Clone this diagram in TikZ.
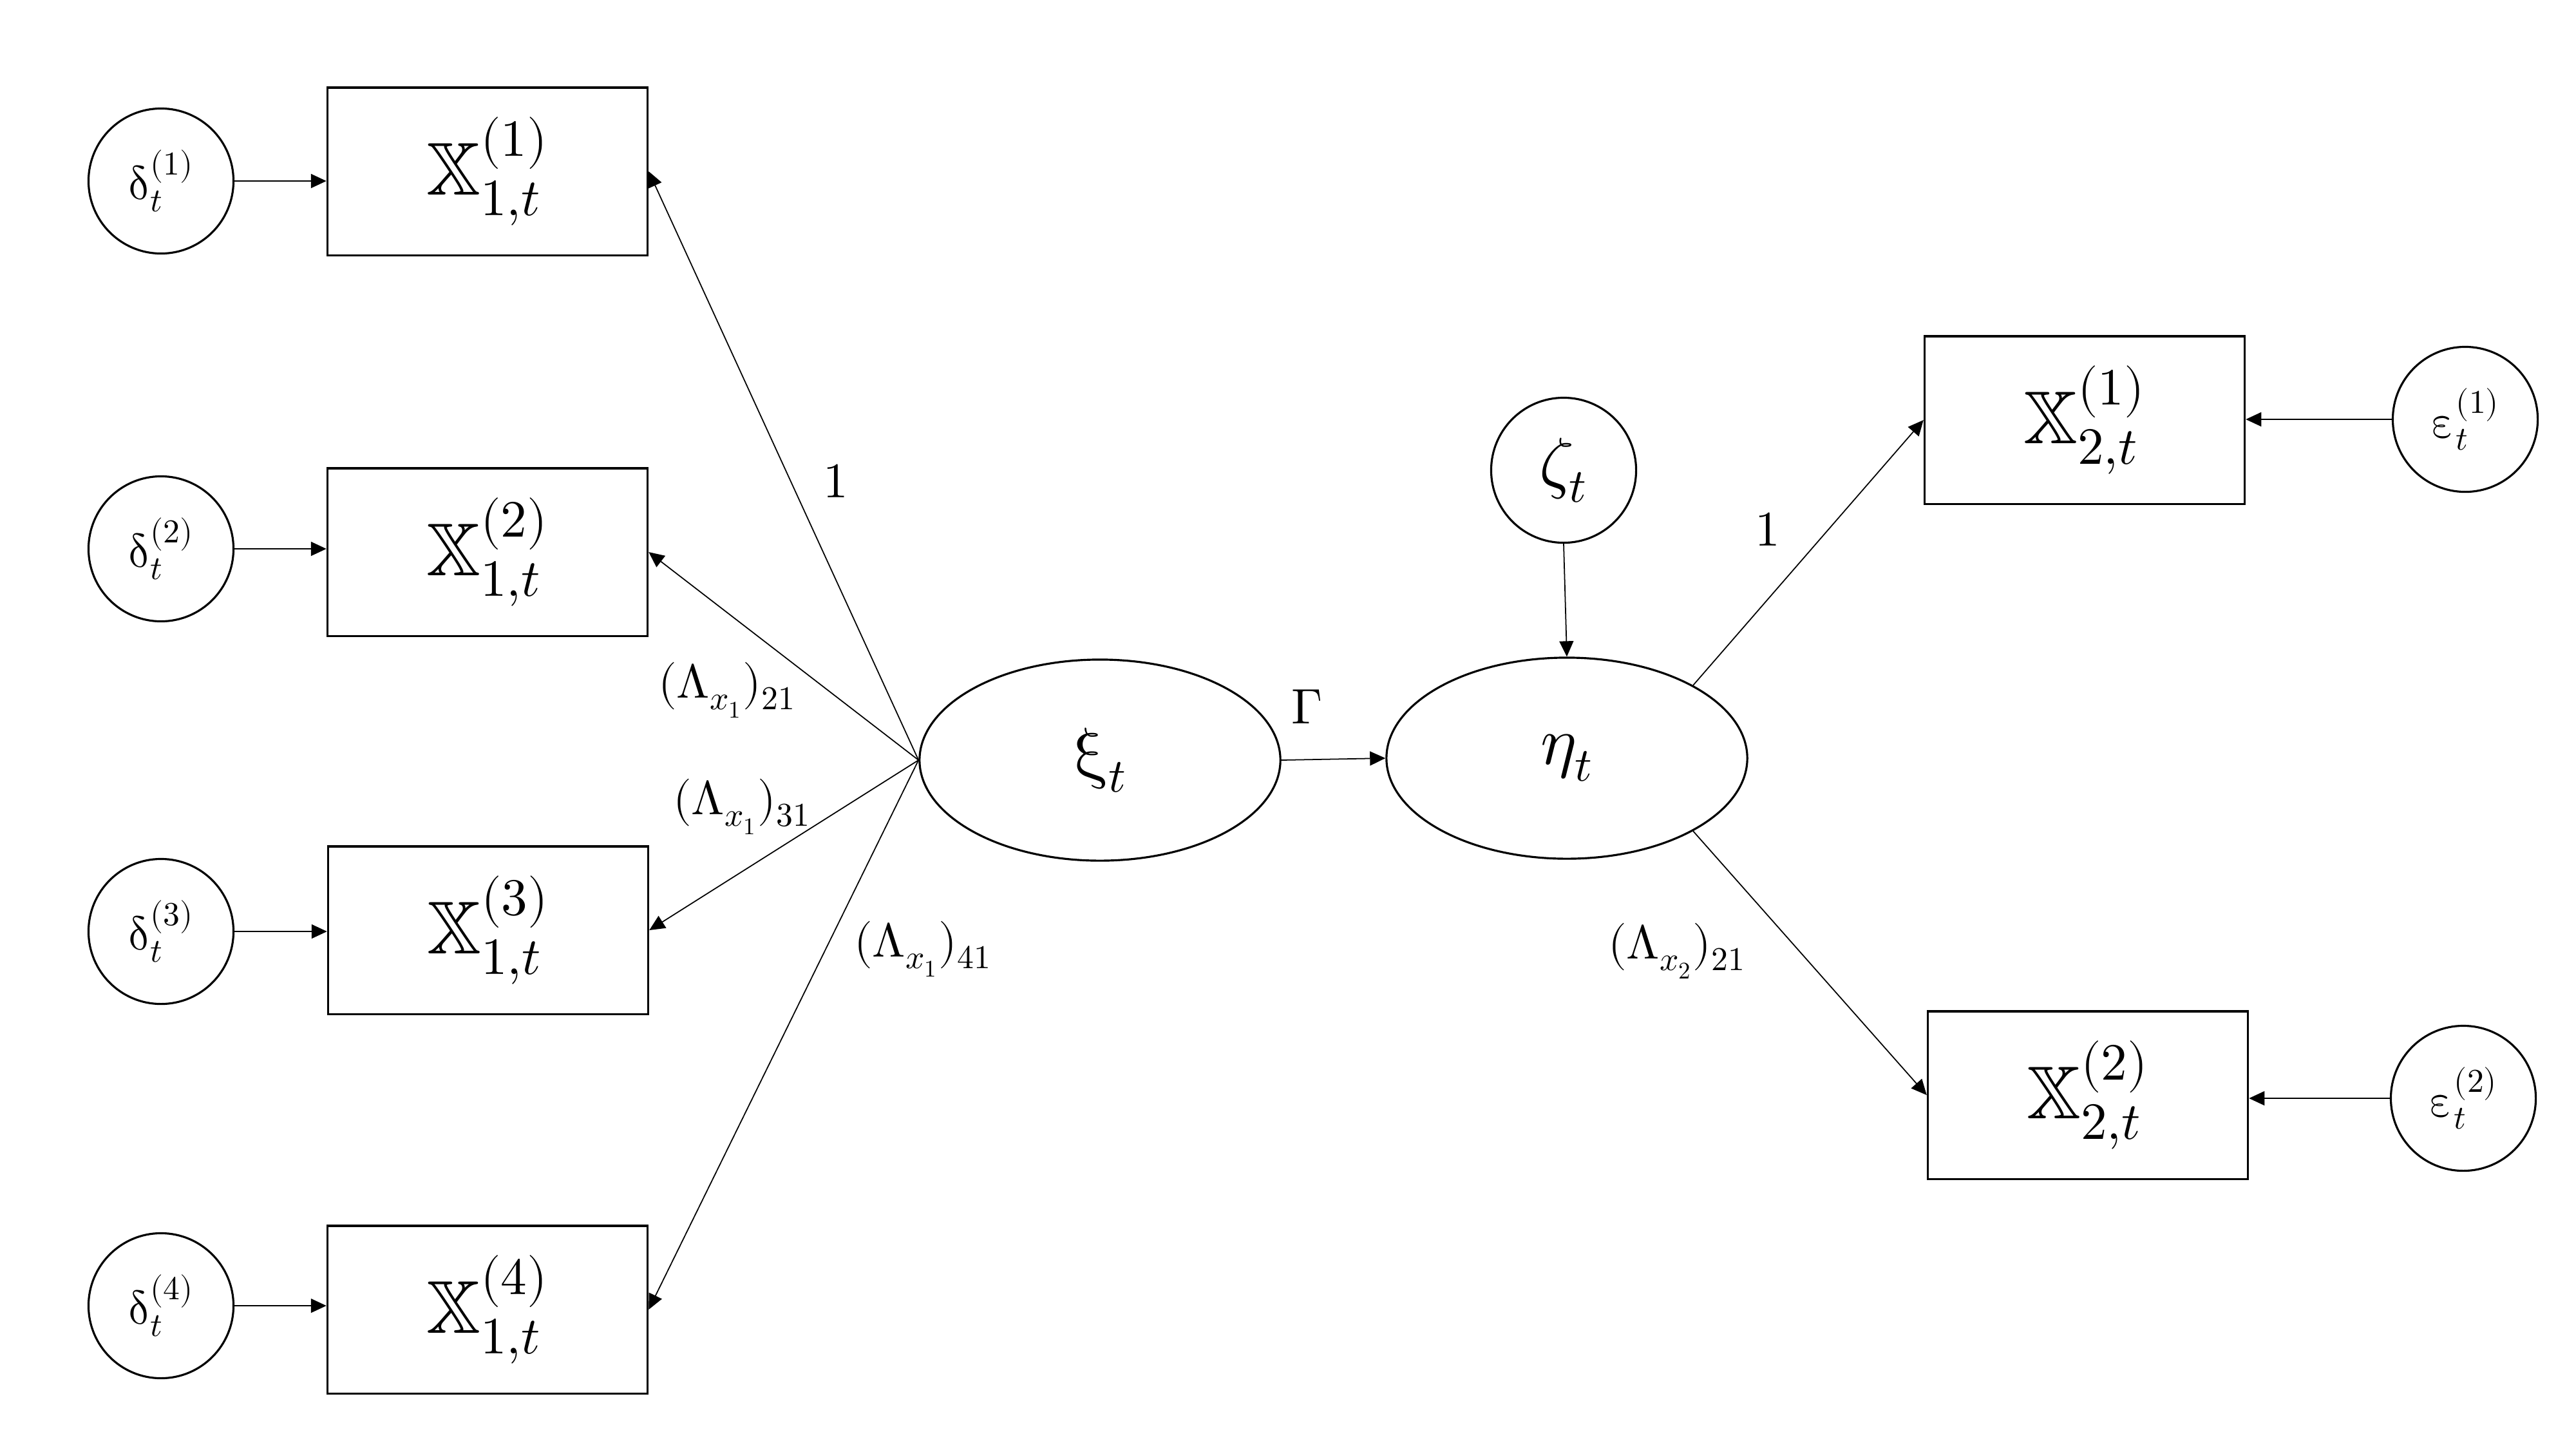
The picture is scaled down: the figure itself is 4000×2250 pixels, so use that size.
\documentclass[tikz,border=0pt]{standalone}
\usepackage{unicode-math}
\setmathfont{Latin Modern Math}
\usetikzlibrary{arrows.meta,shapes.geometric}
\newcommand{\bbXX}{\mbox{\usefont{U}{msb}{m}{n}X}}
\begin{document}
\begin{tikzpicture}[x=0.01cm,y=-0.01cm,
 obs/.style={draw, line width=0.9pt, minimum width=4.97cm, minimum height=2.6cm, inner sep=0pt, font=\fontsize{33}{40}\selectfont},
 err/.style={draw, circle, line width=0.9pt, minimum size=2.25cm, inner sep=0pt, font=\fontsize{21}{25}\selectfont},
 lat/.style={draw, ellipse, line width=0.9pt, minimum width=5.6cm, minimum height=3.12cm, inner sep=0pt, font=\fontsize{30}{36}\selectfont},
 arr/.style={-{Triangle[length=0.24cm,width=0.22cm]}, line width=0.5pt},
 lbl/.style={font=\fontsize{21}{25}\selectfont, inner sep=0pt},
 biglbl/.style={font=\fontsize{22}{26}\selectfont, inner sep=0pt}]
\useasboundingbox (0,0) rectangle (4000,2250);

% left error terms
\node[err] (d1) at (250,281) {$\symup{\delta}^{(1)}_t$};
\node[err] (d2) at (250,852) {$\symup{\delta}^{(2)}_t$};
\node[err] (d3) at (250,1446) {$\symup{\delta}^{(3)}_t$};
\node[err] (d4) at (250,2027) {$\symup{\delta}^{(4)}_t$};

% left indicators
\node[obs] (x11) at (757,266) {$\bbXX^{(1)}_{1,t}$};
\node[obs] (x12) at (757,857) {$\bbXX^{(2)}_{1,t}$};
\node[obs] (x13) at (758,1444) {$\bbXX^{(3)}_{1,t}$};
\node[obs] (x14) at (757,2033) {$\bbXX^{(4)}_{1,t}$};

% latent variables
\node[lat] (xi) at (1708,1180) {$\symup{\xi}_t$};
\node[lat] (eta) at (2433,1177) {$\eta_t$};
\node[err, font=\fontsize{30}{36}\selectfont] (zeta) at (2428,730) {$\zeta_t$};

% right indicators
\node[obs] (x21) at (3237,652) {$\bbXX^{(1)}_{2,t}$};
\node[obs] (x22) at (3242,1700) {$\bbXX^{(2)}_{2,t}$};

% right error terms
\node[err] (e1) at (3828,651) {$\symup{\varepsilon}^{(1)}_t$};
\node[err] (e2) at (3825,1705) {$\symup{\varepsilon}^{(2)}_t$};

% connectors
\draw[arr] (d1.east) -- (d1.east -| x11.west);
\draw[arr] (d2.east) -- (d2.east -| x12.west);
\draw[arr] (d3.east) -- (d3.east -| x13.west);
\draw[arr] (d4.east) -- (d4.east -| x14.west);

\draw[arr] (xi.west) -- (x11.east);
\draw[arr] (xi.west) -- (x12.east);
\draw[arr] (xi.west) -- (x13.east);
\draw[arr] (xi.west) -- (x14.east);

\draw[arr] (xi.east) -- (eta.west);
\draw[arr] (zeta.south) -- (eta.north);

\draw[arr] (eta.30) -- (x21.west);
\draw[arr] (eta.-30) -- (x22.west);

\draw[arr] (e1.west) -- (e1.west -| x21.east);
\draw[arr] (e2.west) -- (e2.west -| x22.east);

% labels
\node[biglbl] (l1) at (1298,747) {$1$};
\node[lbl] (l21) at (1129,1071) {$(\symup{\Lambda}_{x_1})_{21}$};
\node[lbl] (l31) at (1152,1252) {$(\symup{\Lambda}_{x_1})_{31}$};
\node[lbl] (l41) at (1433,1473) {$(\symup{\Lambda}_{x_1})_{41}$};
\node[biglbl] (lg) at (2030,1097) {$\symup{\Gamma}$};
\node[biglbl] (r1) at (2745,822) {$1$};
\node[lbl] (r21) at (2604,1476) {$(\symup{\Lambda}_{x_2})_{21}$};
\end{tikzpicture}
\end{document}
